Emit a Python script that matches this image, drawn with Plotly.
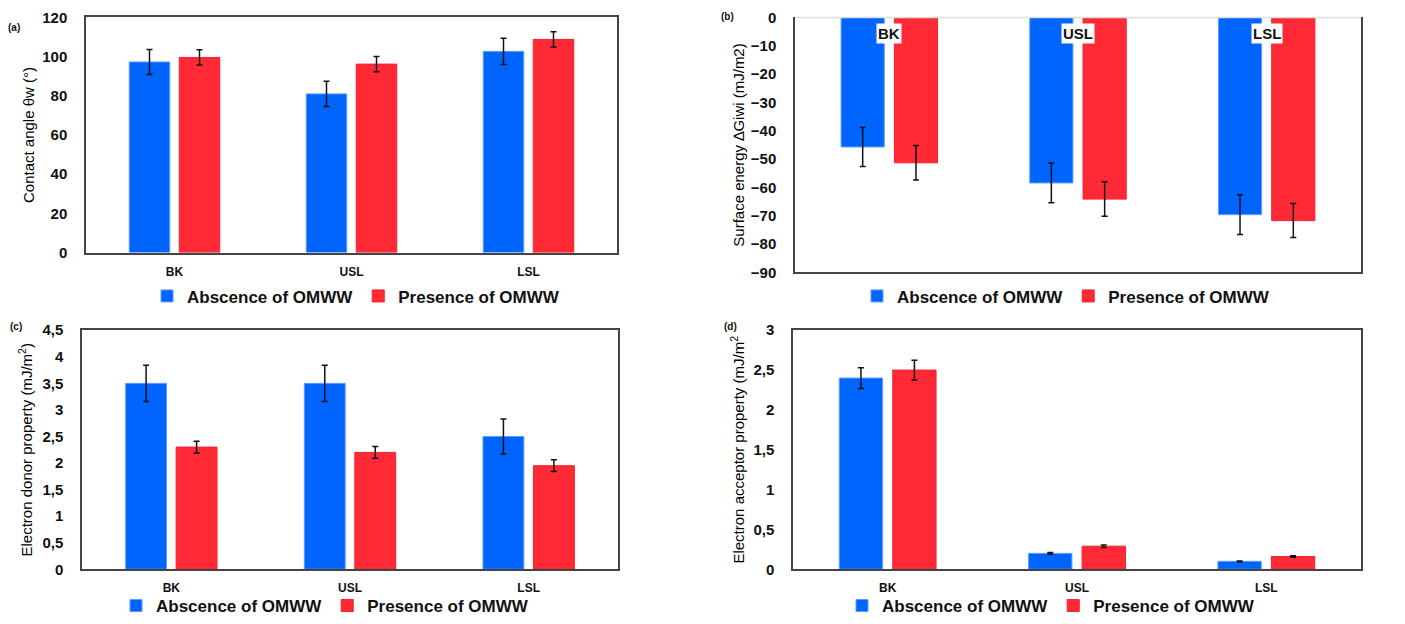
import plotly.graph_objects as go

categories = ["BK", "USL", "LSL"]
series_names = ["Abscence of OMWW", "Presence of OMWW"]

# (a) Contact angle
angle_absence = [97.3, 81.0, 102.7]
angle_absence_err = [6.4, 6.4, 6.7]
angle_presence = [99.6, 96.2, 108.8]
angle_presence_err = [3.9, 3.9, 3.9]

# (b) Surface energy
energy_absence = [-45.7, -58.4, -69.6]
energy_absence_err = [6.9, 7.0, 7.0]
energy_presence = [-51.3, -64.1, -71.7]
energy_presence_err = [6.1, 6.1, 6.0]

# (c) Electron donor
donor_absence = [3.5, 3.5, 2.5]
donor_absence_err = [0.34, 0.34, 0.33]
donor_presence = [2.3, 2.2, 1.95]
donor_presence_err = [0.11, 0.11, 0.11]

# (d) Electron acceptor
acceptor_absence = [2.4, 0.2, 0.1]
acceptor_absence_err = [0.13, 0.01, 0.005]
acceptor_presence = [2.5, 0.29, 0.16]
acceptor_presence_err = [0.125, 0.015, 0.01]

BLUE = "#0064FF"
BLUE_EDGE = "#5C9DFF"
RED = "#FF2A35"
RED_EDGE = "#F5202A"
FONT = "Liberation Sans"
W, H = 1405, 624

panels = [
    dict(ax="", legend="legend", data=(angle_absence, angle_absence_err, angle_presence, angle_presence_err)),
    dict(ax="2", legend="legend2", data=(energy_absence, energy_absence_err, energy_presence, energy_presence_err)),
    dict(ax="3", legend="legend3", data=(donor_absence, donor_absence_err, donor_presence, donor_presence_err)),
    dict(ax="4", legend="legend4", data=(acceptor_absence, acceptor_absence_err, acceptor_presence, acceptor_presence_err)),
]

fig = go.Figure()
for p in panels:
    a, ae, r, re_ = p["data"]
    for name, vals, errs, col, edge in [
        (series_names[0], a, ae, BLUE, BLUE_EDGE),
        (series_names[1], r, re_, RED, RED_EDGE),
    ]:
        fig.add_trace(go.Bar(
            x=categories, y=vals, name=name,
            marker=dict(color=col, line=dict(color=edge, width=1)),
            error_y=dict(type="data", array=errs, visible=True, color="#111111", thickness=1.5, width=3),
            xaxis="x" + p["ax"], yaxis="y" + p["ax"], legend=p["legend"],
        ))

def px_x(v):
    return v / W

def px_y(v):
    # the captured picture is slightly shifted/compressed vertically; compensate
    return 1 - (v / 0.975 - 8.7) / H

tickfont = dict(family=FONT, size=15, color="#111111", weight="bold")
xtickfont = dict(family=FONT, size=12, color="#111111", weight="bold")
titlefont = dict(family=FONT, size=15, color="#000000")
legfont = dict(family=FONT, size=17, color="#111111", weight="bold")

def xaxis(dom, anchor, show_labels=True, mirror=True):
    return dict(domain=dom, anchor=anchor, showgrid=False, showline=True, linecolor="#444444",
                linewidth=1.5, mirror=mirror, ticks="", tickfont=xtickfont,
                showticklabels=show_labels, ticklabelstandoff=7, fixedrange=True)

def yaxis(dom, anchor, rng, dtick, title, standoff):
    return dict(domain=dom, anchor=anchor, range=rng, dtick=dtick, showgrid=False, showline=True,
                linecolor="#444444", linewidth=1.5, mirror=True, ticks="", tickfont=tickfont,
                ticklabelstandoff=14, zeroline=False, fixedrange=True,
                title=dict(text=title, font=titlefont, standoff=standoff))

fig.update_layout(
    width=W, height=H,
    margin=dict(l=0, r=0, t=0, b=0),
    paper_bgcolor="white", plot_bgcolor="white",
    separators=", ",
    barmode="group", bargap=0.435, bargroupgap=0.19,
    font=dict(family=FONT, color="#111111"),
    xaxis=xaxis([px_x(86), px_x(617)], "y"),
    yaxis=yaxis([px_y(253), px_y(17)], "x", [0, 120], 20, "Contact angle θw (°)", 4),
    xaxis2=xaxis([px_x(795), px_x(1361)], "y2", show_labels=False, mirror=False),
    yaxis2=yaxis([px_y(273), px_y(17)], "x2", [-90, 0], 10, "Surface energy ∆Giwi (mJ/m2)", 3),
    xaxis3=xaxis([px_x(82), px_x(618)], "y3"),
    yaxis3=yaxis([px_y(571), px_y(331)], "x3", [0, 4.5], 0.5, "Electron donor property (mJ/m<sup>2</sup>)", 6),
    xaxis4=xaxis([px_x(793), px_x(1361)], "y4"),
    yaxis4=yaxis([px_y(571), px_y(331)], "x4", [0, 3], 0.5, "Electron acceptor property (mJ/m<sup>2</sup>", 5),
)

def legend(xc, y):
    return dict(orientation="h", x=px_x(xc), y=y, xanchor="center", yanchor="middle",
                font=legfont, bgcolor="rgba(0,0,0,0)", itemwidth=30, tracegroupgap=0,
                traceorder="normal")

LOW_LEGEND_Y = 1 - 615 / H  # kept inside the page so the capture is not rescaled
fig.update_layout(
    legend=legend(356, px_y(297)),
    legend2=legend(1066, px_y(297)),
    legend3=legend(325, LOW_LEGEND_Y),
    legend4=legend(1051, LOW_LEGEND_Y),
)

# light top border of panel (b)
fig.add_shape(type="line", xref="paper", yref="paper", x0=px_x(795), x1=px_x(1361),
              y0=px_y(17), y1=px_y(17), line=dict(color="#DDDDDD", width=1.5))

# category labels inside panel (b)
for c in categories:
    fig.add_annotation(x=c, y=-5.6, xref="x2", yref="y2", text="<b>%s</b>" % c, showarrow=False,
                       bgcolor="white", font=dict(family=FONT, size=15, color="#111111"), borderpad=1)

# panel letters
for txt, x, y in [("(a)", 14, 27), ("(b)", 727, 16), ("(c)", 16, 327), ("(d)", 730, 327)]:
    fig.add_annotation(x=px_x(x), y=px_y(y), xref="paper", yref="paper", text="<b>%s</b>" % txt,
                       showarrow=False, xanchor="center", yanchor="middle",
                       font=dict(family=FONT, size=10, color="#111111"))

post = (
    "document.documentElement.style.margin='0';"
    "document.body.style.margin='0';"
    "document.body.style.overflow='hidden';"
    "document.documentElement.style.overflow='hidden';"
    "var g=document.querySelector('.plotly-graph-div');"
    "g.style.position='fixed';g.style.top='0px';g.style.left='0px';"
)
fig.write_html("out.html", config={"displayModeBar": False}, post_script=post)
